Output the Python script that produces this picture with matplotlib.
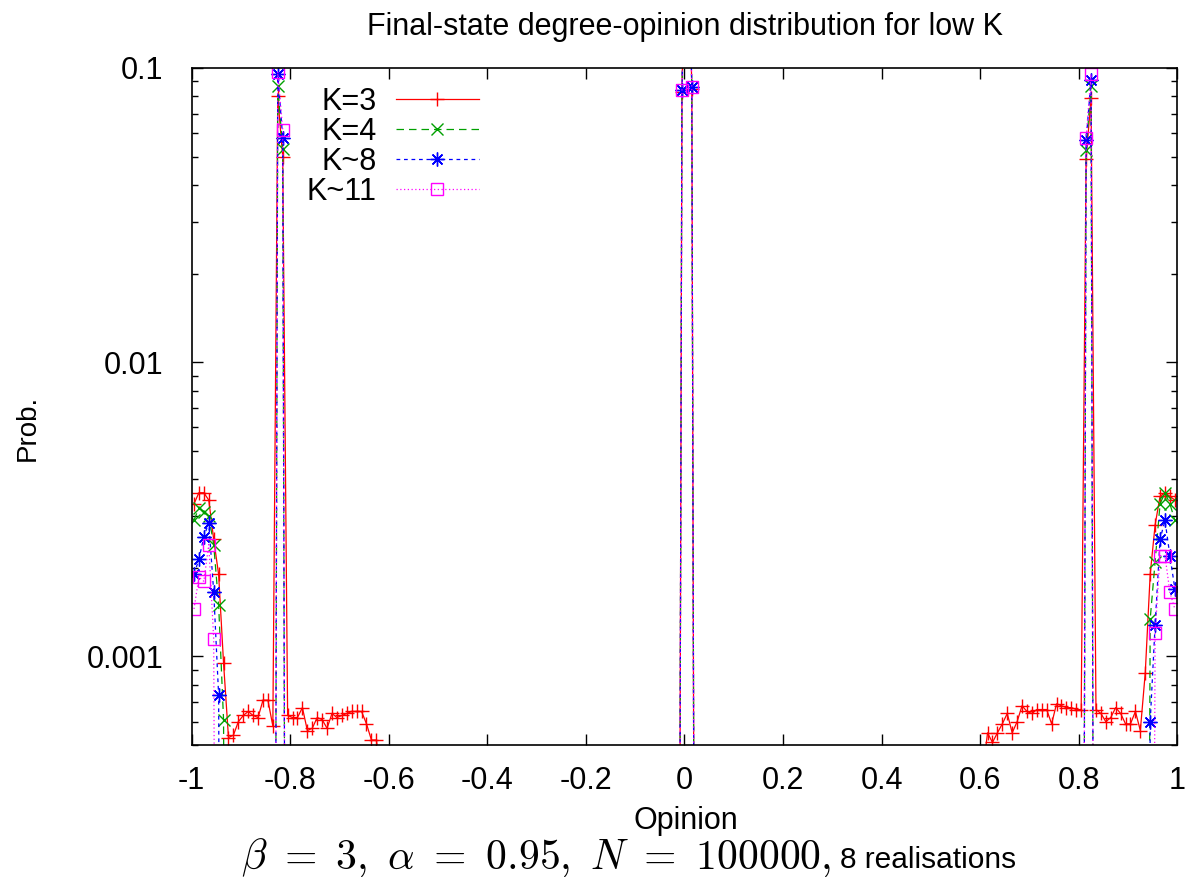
import numpy as np
import matplotlib
matplotlib.use("Agg")
import matplotlib.pyplot as plt
from matplotlib.ticker import FixedLocator, FixedFormatter, LogLocator, NullFormatter

LOW = 1e-7      # bins whose probability lies below the plotted range
N = np.nan      # bins with no data

# ---- bin centres ----
x_left = np.linspace(-0.995, -0.615, 39)
x_mid = [-0.015, -0.005, 0.005, 0.015, 0.025]
x_right = np.linspace(0.605, 0.995, 40)

# ---- K=3 ----
k3_left = [0.0033, 0.0036, 0.0036, 0.0034, 0.0025, 0.0019, 0.00095, 0.00053, 0.00054,
           0.00060, 0.00063, 0.00065, 0.00063, 0.00062, 0.00071, 0.00071, 0.00058,
           0.080, 0.050,
           0.00063, 0.00062, 0.00062, 0.00067, 0.00056, 0.00057, 0.00062, 0.00061,
           0.00057, 0.00064, 0.00062, 0.00063, 0.00064, 0.00065, 0.00065, 0.00065,
           0.00059, 0.00052, 0.00052, 0.0004]
k3_mid = [LOW, 0.083, 0.6, 0.085, LOW]
k3_right = [0.0004, 0.00055, 0.00051, 0.00055, 0.00059, 0.00064, 0.00055, 0.00060, 0.00068,
            0.00065, 0.00064, 0.00066, 0.00066, 0.00066, 0.00059, 0.00069, 0.00068,
            0.00067, 0.00067, 0.00066, 0.00066,
            0.049, 0.079,
            0.00066, 0.00064, 0.00060, 0.00062, 0.00067, 0.00064, 0.00059, 0.00059,
            0.00065, 0.00056, 0.00088, 0.0019, 0.0028, 0.0035, 0.0036, 0.0035, 0.0034]

# ---- K=4 ----
k4_left = ([0.0029, 0.0032, 0.0031, 0.0030, 0.0024, 0.0015, 0.00061, LOW] + [N] * 8 +
           [LOW, 0.087, 0.053, LOW] + [N] * 19)
k4_mid = [LOW, 0.084, 0.6, 0.086, LOW]
k4_right = ([N] * 20 + [LOW, 0.0527, 0.0869, LOW] + [N] * 9 +
            [LOW, 0.00134, 0.0021, 0.0033, 0.0036, 0.0033, 0.0029])

# ---- K~8 ----
k8_left = ([0.0019, 0.00214, 0.00255, 0.00285, 0.00166, 0.00074, LOW] + [N] * 9 +
           [LOW, 0.0954, 0.058, LOW] + [N] * 19)
k8_mid = [LOW, 0.084, 0.6, 0.086, LOW]
k8_right = ([N] * 20 + [LOW, 0.0567, 0.091, LOW] + [N] * 9 +
            [LOW, 0.0006, 0.00128, 0.0025, 0.0029, 0.0022, 0.0017])

# ---- K~11 ----
k11_left = ([0.00145, 0.00186, 0.0018, 0.0024, 0.00115, LOW] + [N] * 10 +
            [LOW, 0.097, 0.0617, LOW] + [N] * 19)
k11_mid = [LOW, 0.084, 0.6, 0.086, LOW]
k11_right = ([N] * 20 + [LOW, 0.0578, 0.0954, LOW] + [N] * 10 +
             [LOW, 0.0012, 0.0022, 0.0022, 0.00165, 0.00145])

labels = ["K=3", "K=4", "K~8", "K~11"]
xtick_vals = [-1, -0.8, -0.6, -0.4, -0.2, 0, 0.2, 0.4, 0.6, 0.8, 1]
xtick_labels = ["-1", "-0.8", "-0.6", "-0.4", "-0.2", "0", "0.2", "0.4", "0.6", "0.8", "1"]
ytick_vals = [0.001, 0.01, 0.1]
ytick_labels = ["0.001", "0.01", "0.1"]


def join(left, mid, right):
    xs = np.concatenate([x_left, [np.nan], x_mid, [np.nan], x_right])
    ys = np.concatenate([left, [np.nan], mid, [np.nan], right])
    return xs, ys


plt.rcParams['font.family'] = ['Liberation Sans', 'DejaVu Sans']
plt.rcParams['mathtext.fontset'] = 'cm'

fig = plt.figure(figsize=(11.91, 8.77), dpi=100)
ax = fig.add_axes([0.1608, 0.1505, 0.8277, 0.772])

styles = [
    dict(color='#ff0000', ls='-', marker='+', ms=10.5, mew=1.0),
    dict(color='#00a000', ls=(0, (6, 4)), marker='x', ms=8.5, mew=1.0),
    dict(color='#0000ff', ls=(0, (3, 3)), marker=(8, 2, 0), ms=10, mew=1.0),
    dict(color='#ff00ff', ls=(0, (1, 2)), marker='s', ms=8.5, mew=1.0, mfc='none'),
]
series = [(k3_left, k3_mid, k3_right), (k4_left, k4_mid, k4_right),
          (k8_left, k8_mid, k8_right), (k11_left, k11_mid, k11_right)]

for (l, m, r), lab, st in zip(series, labels, styles):
    xs, ys = join(l, m, r)
    ax.plot(xs, ys, lw=0.9, label=lab, **st)

ax.set_yscale('log')
ax.set_xlim(-1, 1)
ax.set_ylim(5e-4, 0.1)

ax.xaxis.set_major_locator(FixedLocator(xtick_vals))
ax.xaxis.set_major_formatter(FixedFormatter(xtick_labels))
ax.yaxis.set_major_locator(FixedLocator(ytick_vals))
ax.yaxis.set_major_formatter(FixedFormatter(ytick_labels))
ax.yaxis.set_minor_locator(LogLocator(base=10, subs=np.arange(2, 10)))
ax.yaxis.set_minor_formatter(NullFormatter())
ax.xaxis.set_minor_locator(FixedLocator([]))

ax.tick_params(which='both', direction='in', top=True, right=True, width=1.0)
ax.tick_params(axis='y', which='major', length=8, pad=20, labelsize=22)
ax.tick_params(axis='y', which='minor', length=4)
ax.tick_params(axis='x', which='major', length=8, pad=15, labelsize=22)
for sp in ax.spines.values():
    sp.set_linewidth(1.2)

leg = ax.legend(loc='upper right', bbox_to_anchor=(0.313, 1.004), frameon=False,
                markerfirst=False, numpoints=1, fontsize=22, handlelength=2.7,
                labelspacing=0.0, borderpad=0.2, handletextpad=0.65)

fig.text(0.575, 0.969, "Final-state degree-opinion distribution for low K",
         ha='center', va='center', fontsize=22)
fig.text(0.576, 0.064, "Opinion", ha='center', va='center', fontsize=22)
fig.text(0.0235, 0.512, "Prob.", ha='center', va='center', rotation=90, fontsize=20)
fig.text(0.698, 0.010, r"$\beta\ =\ 3,\ \alpha\ =\ 0.95,\ N\ =\ 100000,$",
         ha='right', va='baseline', fontsize=30)
fig.text(0.705, 0.010, "8 realisations", ha='left', va='baseline', fontsize=21.5)

fig.savefig("out.png", dpi=100)
